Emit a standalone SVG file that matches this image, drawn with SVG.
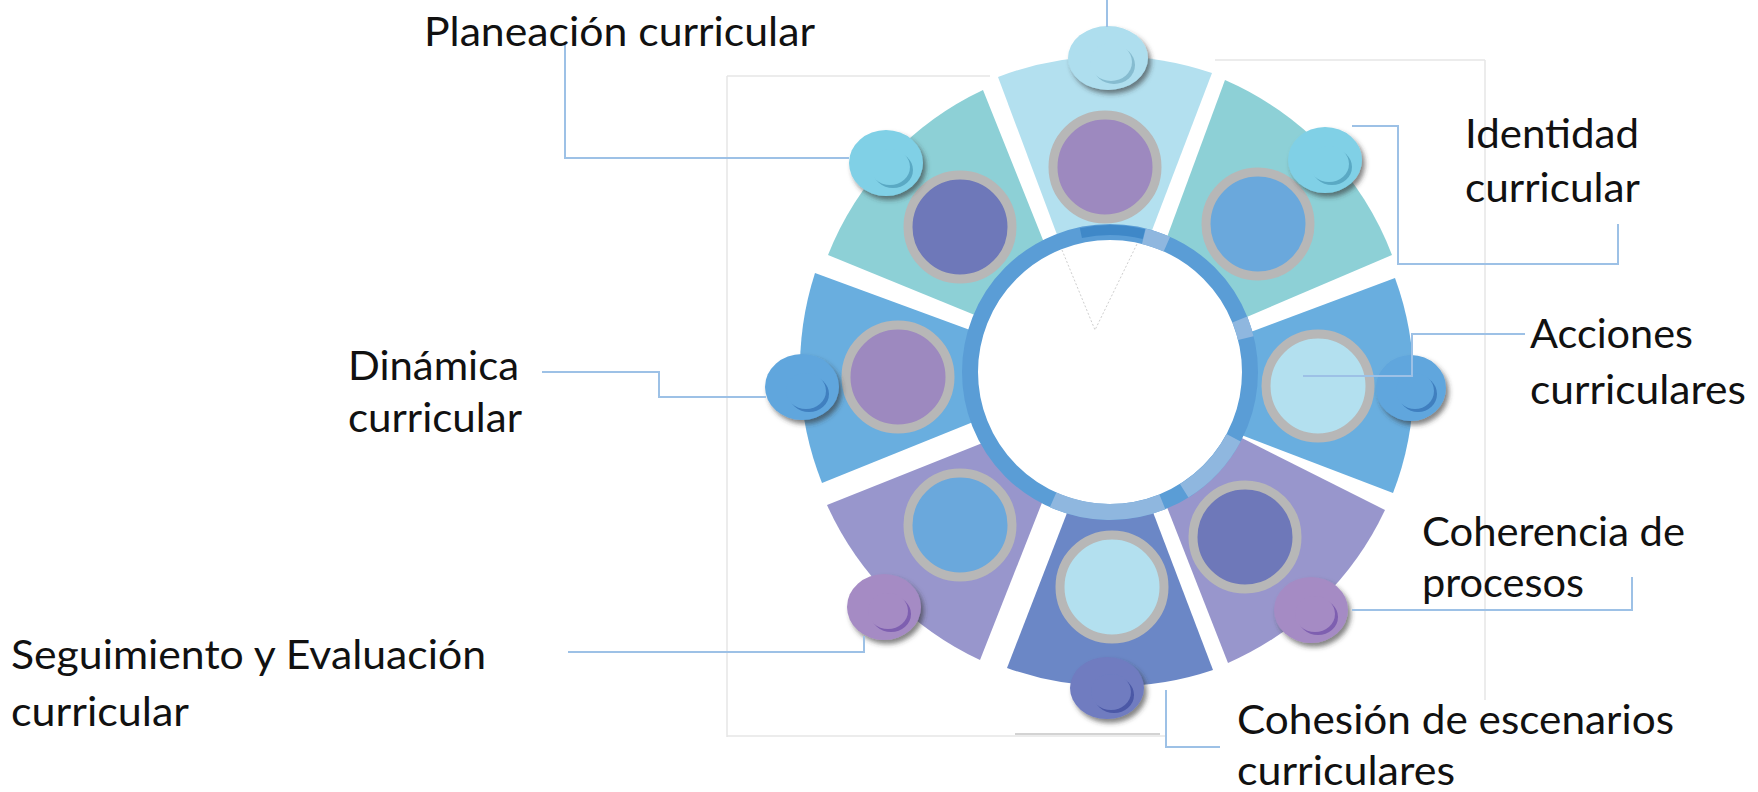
<svg xmlns="http://www.w3.org/2000/svg" width="1758" height="792" viewBox="0 0 1758 792">
<defs>
<style>
.lbl{font-family:Lato,"Open Sans","Liberation Sans",sans-serif;font-size:41px;fill:#111}
.con{fill:none;stroke:#9dc1e6;stroke-width:2}
.frame{fill:none;stroke:#e6e6e6;stroke-width:1.5}
.ring-ring{fill:none;stroke:#b7b7b7;stroke-width:9}
.s-top{fill:#b3e0ef}.s-teal{fill:#8dd0d6}.s-blue{fill:#69aedf}.s-lav{fill:#9896cc}.s-ind{fill:#6b87c6}
.c-pur{fill:#9d89bf}.c-ind{fill:#6e78b9}.c-blu{fill:#6aa8dc}.c-lt{fill:#b3e0ef}
</style>
<filter id="sh" x="-40%" y="-40%" width="180%" height="180%">
<feDropShadow dx="3" dy="4" stdDeviation="2.5" flood-color="#333" flood-opacity="0.6"/>
</filter>
</defs>
<rect width="1758" height="792" fill="#fff"/>
<g id="frame">
<path class="frame" d="M727,76 V737" stroke="#eeeeee"/>
<path class="frame" d="M727,736 H1165" stroke="#dcdcdc"/>
<path d="M1015,734 H1160" stroke="#c4c4c4" stroke-width="1.5"/>
<path class="frame" d="M727,76 H990" stroke="#d6d6d6"/>
<path class="frame" d="M1215,60 H1485" stroke="#d6d6d6"/>
<path class="frame" d="M1485,60 V700" stroke="#f2f2f2"/>
</g>
<g id="node-top">
<path class="s-top" d="M998,77 A314,314 0 0 1 1212,73 L1146,246 L1062,248 Z"/>
</g>
<g id="node-identidad">
<path class="s-teal" d="M1225,80 A312,312 0 0 1 1392,255 L1235,322 L1163,248 Z"/>
</g>
<g id="node-acciones">
<path class="s-blue" d="M1395,278 A305,305 0 0 1 1393,493 L1231,431 L1240,336 Z"/>
</g>
<g id="node-coherencia">
<path class="s-lav" d="M1385,510 A312,312 0 0 1 1228,663 L1163,497 L1230,432 Z"/>
</g>
<g id="node-cohesion">
<path class="s-ind" d="M1213,670 A314,314 0 0 1 1007,668 L1072,500 L1148,499 Z"/>
</g>
<g id="node-seguimiento">
<path class="s-lav" d="M980,660 A314,314 0 0 1 827,505 L995,438 L1047,490 Z"/>
</g>
<g id="node-dinamica">
<path class="s-blue" d="M822,483 A310,310 0 0 1 815,273 L989,337 L988,416 Z"/>
</g>
<g id="node-planeacion">
<path class="s-teal" d="M828,255 A307,307 0 0 1 983,90 L1047,250 L987,320 Z"/>
</g>
<g id="hub">
<circle cx="1110" cy="372" r="134" fill="#fff"/>
<circle cx="1110" cy="372" r="140" fill="none" stroke="#5a9dd6" stroke-width="16"/>
<g fill="none" stroke="#8fb7df" stroke-width="16">
<path d="M1143.9,236.2 A140,140 0 0 1 1166.9,244.1"/>
<path d="M1239.8,319.6 A140,140 0 0 1 1245.8,338.1"/>
<path d="M1233.6,437.7 A140,140 0 0 1 1184.2,490.7"/>
<path d="M1162.4,501.8 A140,140 0 0 1 1053.1,499.9"/>
</g>
<path d="M1080.9,235.1 A140,140 0 0 1 1143.9,236.2" fill="none" stroke="#3f88c8" stroke-width="10" transform="translate(0,-2)"/>
<path d="M1062,250 L1095,330 L1137,244" fill="none" stroke="#cfcfcf" stroke-width="1" stroke-dasharray="2 2"/>
</g>
<g id="circles">
<circle class="ring-ring c-pur" cx="1105" cy="167" r="52"/>
<circle class="ring-ring c-blu" cx="1258" cy="224" r="52"/>
<circle class="ring-ring c-lt" cx="1318" cy="386" r="52"/>
<circle class="ring-ring c-ind" cx="1245" cy="537" r="52"/>
<circle class="ring-ring c-lt" cx="1112" cy="587" r="52"/>
<circle class="ring-ring c-blu" cx="960" cy="525" r="52"/>
<circle class="ring-ring c-pur" cx="898" cy="377" r="52"/>
<circle class="ring-ring c-ind" cx="960" cy="227" r="52"/>
</g>
<g id="buttons">
<g filter="url(#sh)"><ellipse cx="1108" cy="58" rx="40" ry="32" fill="#aedeee"/><ellipse cx="1114" cy="65" rx="21" ry="19" fill="#86bcd0"/><ellipse cx="1111" cy="62" rx="21" ry="19" fill="#aedeee"/></g>
<g filter="url(#sh)"><ellipse cx="1325" cy="160" rx="37" ry="33" fill="#80d0e6"/><ellipse cx="1332" cy="167" rx="20" ry="18" fill="#5aa9c4"/><ellipse cx="1329" cy="164" rx="20" ry="18" fill="#80d0e6"/></g>
<g filter="url(#sh)"><ellipse cx="1411" cy="388" rx="35" ry="33" fill="#60a6dd"/><ellipse cx="1418" cy="394" rx="19" ry="18" fill="#3f7fbf"/><ellipse cx="1415" cy="391" rx="19" ry="18" fill="#60a6dd"/></g>
<g filter="url(#sh)"><ellipse cx="1311" cy="610" rx="37" ry="33" fill="#a58bc4"/><ellipse cx="1318" cy="617" rx="20" ry="18" fill="#7e5fb0"/><ellipse cx="1315" cy="614" rx="20" ry="18" fill="#a58bc4"/></g>
<g filter="url(#sh)"><ellipse cx="1107" cy="688" rx="37" ry="31" fill="#6f7cc0"/><ellipse cx="1114" cy="695" rx="20" ry="18" fill="#4b58a6"/><ellipse cx="1111" cy="692" rx="20" ry="18" fill="#6f7cc0"/></g>
<g filter="url(#sh)"><ellipse cx="884" cy="607" rx="37" ry="33" fill="#a58bc4"/><ellipse cx="891" cy="614" rx="20" ry="18" fill="#7e5fb0"/><ellipse cx="888" cy="611" rx="20" ry="18" fill="#a58bc4"/></g>
<g filter="url(#sh)"><ellipse cx="802" cy="387" rx="37" ry="33" fill="#60a6dd"/><ellipse cx="809" cy="394" rx="20" ry="18" fill="#3f7fbf"/><ellipse cx="806" cy="391" rx="20" ry="18" fill="#60a6dd"/></g>
<g filter="url(#sh)"><ellipse cx="886" cy="163" rx="37" ry="33" fill="#80d0e6"/><ellipse cx="893" cy="170" rx="20" ry="18" fill="#5aa9c4"/><ellipse cx="890" cy="167" rx="20" ry="18" fill="#80d0e6"/></g>
</g>
<g id="connectors">
<path class="con" d="M1107,0 V27"/>
<path class="con" d="M565,42 V158 H849"/>
<path class="con" d="M542,372 H659 V397 H766"/>
<path class="con" d="M568,652 H864 V636"/>
<path class="con" d="M1352,126 H1398 V264 H1618 V224"/>
<path class="con" d="M1303,376 H1412 V334 H1525"/>
<path class="con" d="M1352,610 H1632 V577"/>
<path class="con" d="M1166,690 V747 H1220"/>
</g>
<g id="labels">
<text class="lbl" x="424" y="46" textLength="391" lengthAdjust="spacingAndGlyphs">Planeación curricular</text>
<text class="lbl" x="348" y="380" textLength="171" lengthAdjust="spacingAndGlyphs">Dinámica</text>
<text class="lbl" x="348" y="432" textLength="174" lengthAdjust="spacingAndGlyphs">curricular</text>
<text class="lbl" x="11" y="669" textLength="475" lengthAdjust="spacingAndGlyphs">Seguimiento y Evaluación</text>
<text class="lbl" x="11" y="726" textLength="178" lengthAdjust="spacingAndGlyphs">curricular</text>
<text class="lbl" x="1465" y="148" textLength="174" lengthAdjust="spacingAndGlyphs">Identidad</text>
<text class="lbl" x="1465" y="202" textLength="175" lengthAdjust="spacingAndGlyphs">curricular</text>
<text class="lbl" x="1530" y="348" textLength="163" lengthAdjust="spacingAndGlyphs">Acciones</text>
<text class="lbl" x="1530" y="404" textLength="216" lengthAdjust="spacingAndGlyphs">curriculares</text>
<text class="lbl" x="1422" y="546" textLength="263" lengthAdjust="spacingAndGlyphs">Coherencia de</text>
<text class="lbl" x="1422" y="597" textLength="162" lengthAdjust="spacingAndGlyphs">procesos</text>
<text class="lbl" x="1237" y="734" textLength="437" lengthAdjust="spacingAndGlyphs">Cohesión de escenarios</text>
<text class="lbl" x="1237" y="785" textLength="218" lengthAdjust="spacingAndGlyphs">curriculares</text>
</g>
</svg>
